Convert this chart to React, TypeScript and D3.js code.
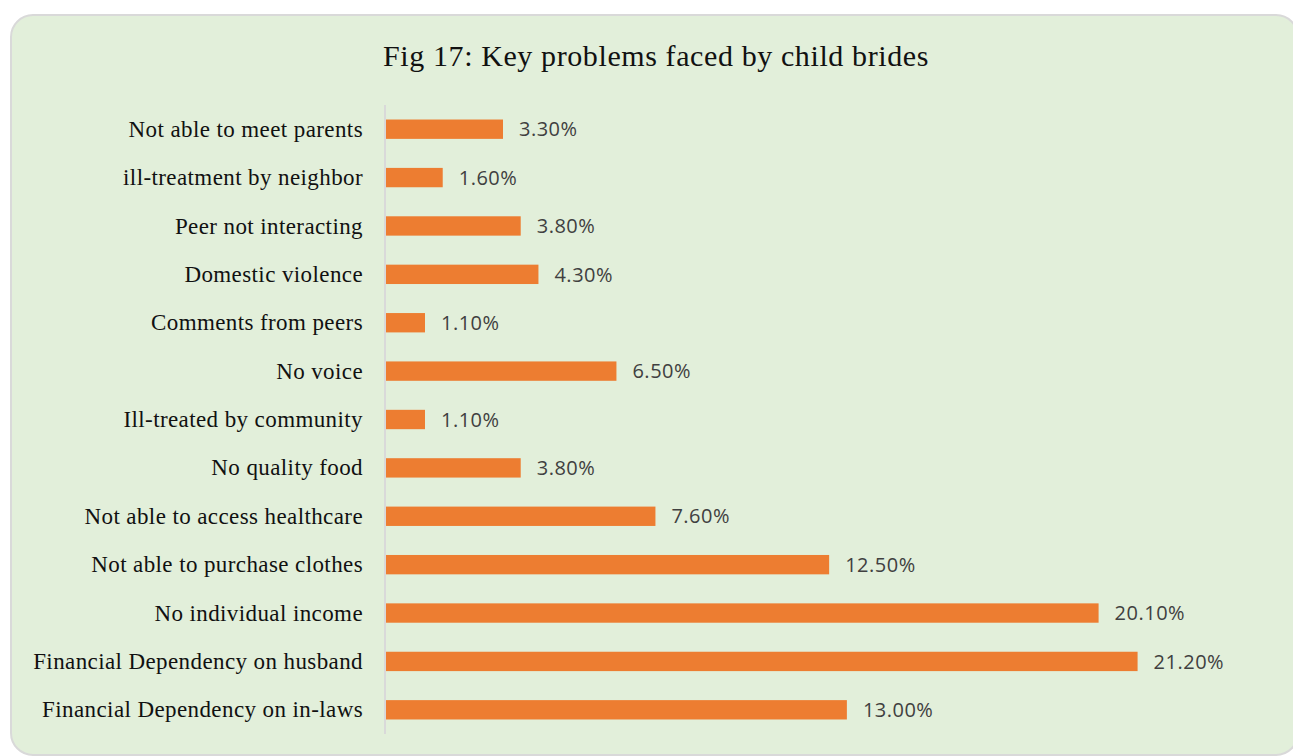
import React from "react";
import * as d3 from "d3";

const categories = [
  "Not able to meet parents",
  "ill-treatment by neighbor",
  "Peer not interacting",
  "Domestic violence",
  "Comments from peers",
  "No voice",
  "Ill-treated by community",
  "No quality food",
  "Not able to access healthcare",
  "Not able to purchase clothes",
  "No individual income",
  "Financial Dependency on husband",
  "Financial Dependency on in-laws",
];
const values = [3.3, 1.6, 3.8, 4.3, 1.1, 6.5, 1.1, 3.8, 7.6, 12.5, 20.1, 21.2, 13.0];
const title = "Fig 17: Key problems faced by child brides";

const W = 1293;
const H = 756;

export default function App() {
  const x = d3.scaleLinear().domain([0, 25]).range([386, 386 + 886.3]);
  const y = d3
    .scaleBand<string>()
    .domain(categories)
    .range([105, 734])
    .paddingInner(0.6)
    .paddingOuter(0.3);

  return (
    <svg
      width={W}
      height={H}
      style={{ position: "absolute", left: 0, top: 0, display: "block" }}
    >
      <rect x={0} y={0} width={W} height={H} fill="#ffffff" />
      <rect
        x={11}
        y={15}
        width={1287}
        height={740}
        rx={22}
        ry={22}
        fill="#e2efda"
        stroke="#d9d9d9"
        strokeWidth={2}
      />
      <text
        x={656}
        y={66}
        textAnchor="middle"
        fontFamily="'Liberation Serif', serif"
        fontSize={30}
        letterSpacing={0.6}
        fill="#111"
      >
        {title}
      </text>
      <line x1={385} x2={385} y1={105} y2={734} stroke="#d9d9d9" strokeWidth={2} />
      {categories.map((c, i) => {
        const yy = y(c)!;
        const bw = y.bandwidth();
        return (
          <g key={c}>
            <rect
              x={x(0)}
              y={yy}
              width={x(values[i]) - x(0)}
              height={bw}
              fill="#ed7d31"
            />
            <text
              x={363}
              y={yy + bw / 2}
              dy="0.33em"
              textAnchor="end"
              fontFamily="'Liberation Serif', serif"
              fontSize={23}
              letterSpacing={0.4}
              fill="#111"
            >
              {c}
            </text>
            <text
              x={x(values[i]) + 16}
              y={yy + bw / 2}
              dy="0.36em"
              fontFamily="'Open Sans', sans-serif"
              fontSize={20}
              letterSpacing={0.5}
              fill="#404040"
            >
              {values[i].toFixed(2) + "%"}
            </text>
          </g>
        );
      })}
    </svg>
  );
}
